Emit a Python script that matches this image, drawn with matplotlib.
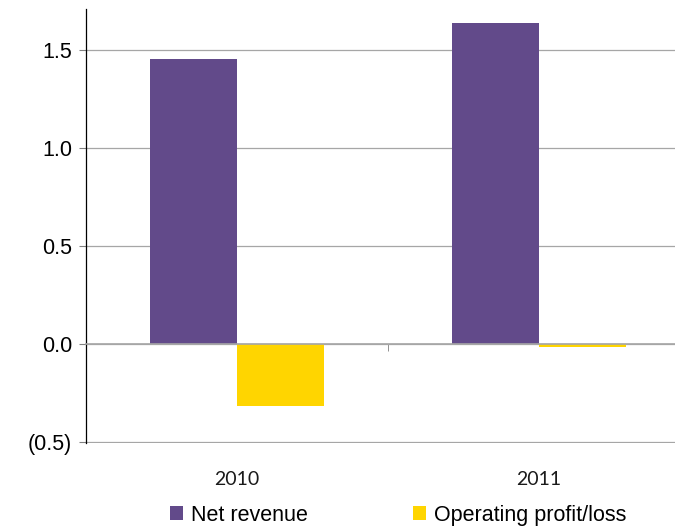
import numpy as np
import matplotlib
matplotlib.use("Agg")
import matplotlib.pyplot as plt
from matplotlib.patches import Patch
from matplotlib.transforms import blended_transform_factory

# revenue vs operating result, in billions
years = ["2010", "2011"]
net_revenue = [1.452, 1.635]
operating_result = [-0.316, -0.015]
series_names = ["Net revenue", "Operating profit/loss"]
y_ticks = [-0.5, 0.0, 0.5, 1.0, 1.5]

purple = "#624A8A"
yellow = "#FFD500"
grid_c = "#A6A6A6"

plt.rcParams["font.family"] = ["Liberation Sans", "DejaVu Sans"]

fig = plt.figure(figsize=(6.75, 5.27), dpi=100)
ax = fig.add_axes([0.1274, 0.16, 0.8948, 0.8224])

x = np.arange(len(years))
w = 0.287
ax.bar(x - w / 2, net_revenue, w, color=purple, zorder=3)
ax.bar(x + w / 2, operating_result, w, color=yellow, zorder=3)

ax.set_xlim(-0.5, 1.5)
ax.set_ylim(-0.503, 1.705)

def fmt(v):
    return "(%.1f)" % abs(v) if v < 0 else "%.1f" % v

ax.set_yticks(y_ticks)
ax.set_yticklabels([fmt(v) for v in y_ticks], fontsize=15.5)
ax.yaxis.grid(True, color=grid_c, linewidth=0.9, zorder=0)
ax.tick_params(axis="y", length=5, width=0.8, color="#808080", pad=5)

# category axis sits on zero, one divider tick between the groups
for s in ["top", "right"]:
    ax.spines[s].set_visible(False)
ax.spines["left"].set_color("black")
ax.spines["left"].set_linewidth(0.9)
ax.spines["bottom"].set_position(("data", 0))
ax.spines["bottom"].set_color(grid_c)
ax.spines["bottom"].set_linewidth(1.2)
ax.spines["bottom"].set_zorder(4)
ax.set_xticks([0.5])
ax.set_xticklabels([""])
ax.tick_params(axis="x", length=5, width=0.6, color="#808080")

tr = blended_transform_factory(ax.transData, ax.transAxes)
for i, yr in enumerate(years):
    ax.text(i, -0.085, yr, transform=tr, ha="center", va="center",
            fontsize=14, family=["Lato", "DejaVu Sans"], color="#1a1a1a")

handles = [Patch(facecolor=purple), Patch(facecolor=yellow)]
fig.legend(handles, series_names, loc="center", bbox_to_anchor=(0.59, 0.022),
           ncol=2, frameon=False, fontsize=15.5, handlelength=0.6,
           handleheight=0.6, handletextpad=0.4, columnspacing=4.85)

fig.savefig("out.png", dpi=100)
